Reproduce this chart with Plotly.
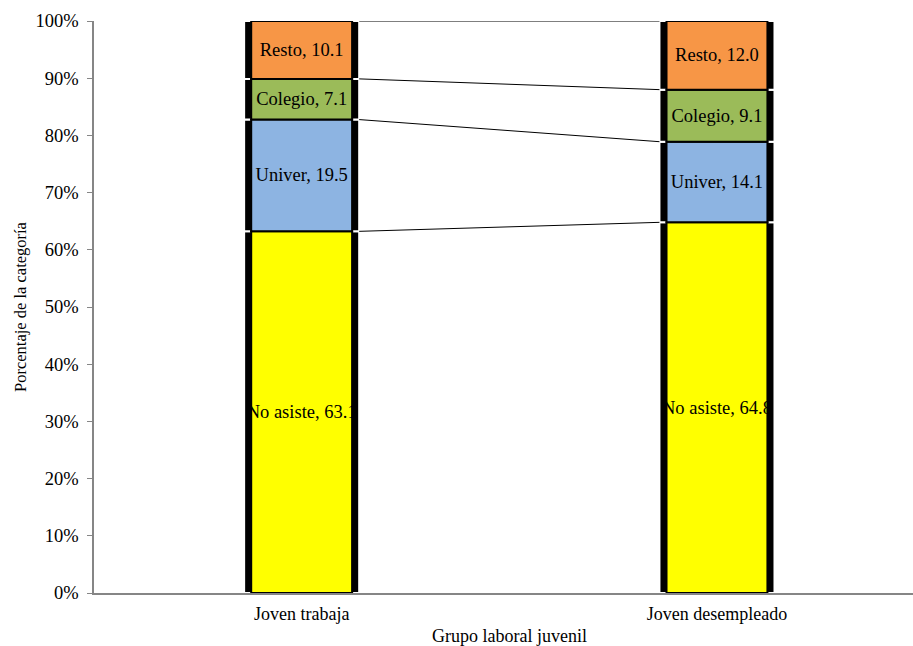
import plotly.graph_objects as go

# ---- data ----
categories = ["Joven trabaja", "Joven desempleado"]
series_names = ["No asiste", "Univer", "Colegio", "Resto"]
no_asiste = [63.1, 64.8]
univer = [19.5, 14.1]
colegio = [7.1, 9.1]
resto = [10.1, 12.0]
series_values = [no_asiste, univer, colegio, resto]
series_colors = ["#FFFF00", "#8DB4E2", "#9BBB59", "#F79646"]

y_ticks = [0, 10, 20, 30, 40, 50, 60, 70, 80, 90, 100]
y_title = "Porcentaje de la categoría"
x_title = "Grupo laboral juvenil"

FONT = "'Liberation Serif', 'Times New Roman', Times, serif"
outer_w = 0.277
inner_w = 0.243

xpos = list(range(len(categories)))
totals = [sum(v[i] for v in series_values) for i in xpos]

fig = go.Figure()

# cumulative (100% stacked) positions
bases = []
norms = []
cum = [0.0 for _ in xpos]
for vals in series_values:
    nv = [vals[i] / totals[i] * 100 for i in xpos]
    bases.append(list(cum))
    norms.append(nv)
    cum = [cum[i] + nv[i] for i in xpos]

# black "frame" bars behind
for k, name in enumerate(series_names):
    fig.add_trace(go.Bar(
        x=xpos, y=norms[k], base=bases[k], width=outer_w,
        marker=dict(color="#000000", line=dict(color="#FFFFFF", width=2)),
        hoverinfo="skip", showlegend=False,
    ))

# coloured segments with labels
for k, name in enumerate(series_names):
    vals = series_values[k]
    fig.add_trace(go.Bar(
        x=xpos, y=norms[k], base=bases[k], width=inner_w, name=name,
        marker=dict(color=series_colors[k], line=dict(color="#000000", width=2)),
        text=[f"{name}, {v:.1f}" for v in vals],
        textposition="inside", insidetextanchor="middle", textangle=0,
        textfont=dict(family=FONT, size=18.5, color="#000000"),
        showlegend=False,
    ))

# series connector lines between stacked boundaries
for k in range(len(series_names)):
    tops = [bases[k][i] + norms[k][i] for i in xpos]
    fig.add_trace(go.Scatter(
        x=[xpos[0] + outer_w / 2, xpos[1] - outer_w / 2], y=tops,
        mode="lines", line=dict(color="#000000", width=1),
        hoverinfo="skip", showlegend=False,
    ))

fig.update_layout(
    width=913, height=646,
    margin=dict(l=94, r=0, t=21, b=53),
    paper_bgcolor="white", plot_bgcolor="white",
    barmode="overlay",
    uniformtext=dict(minsize=18.5, mode="show"),
    font=dict(family=FONT, size=17, color="#000000"),
    annotations=[
        dict(text=y_title, textangle=-90, xref="paper", yref="paper",
             x=0, y=0.5, xanchor="center", yanchor="middle", xshift=-74,
             showarrow=False, font=dict(family=FONT, size=16.5, color="#000000")),
        dict(text=x_title, xref="x", yref="paper",
             x=0.5, y=0, xanchor="center", yanchor="middle", yshift=-43,
             showarrow=False, font=dict(family=FONT, size=18, color="#000000")),
    ],
)
fig.update_xaxes(
    range=[-0.5, 1.472], tickvals=xpos, ticktext=categories,
    showgrid=False, zeroline=False, showline=True, linecolor="#868686", linewidth=1.5,
    ticks="", tickfont=dict(family=FONT, size=18), ticklabelstandoff=4,
)
fig.update_yaxes(
    range=[0, 100], tickvals=y_ticks, ticktext=[f"{t}%" for t in y_ticks],
    showgrid=False, zeroline=False, showline=True, linecolor="#868686", linewidth=1.5,
    ticks="outside", ticklen=5, tickcolor="#868686",
    tickfont=dict(family=FONT, size=18.5), ticklabelstandoff=5,
)

fig.write_html("out.html")
